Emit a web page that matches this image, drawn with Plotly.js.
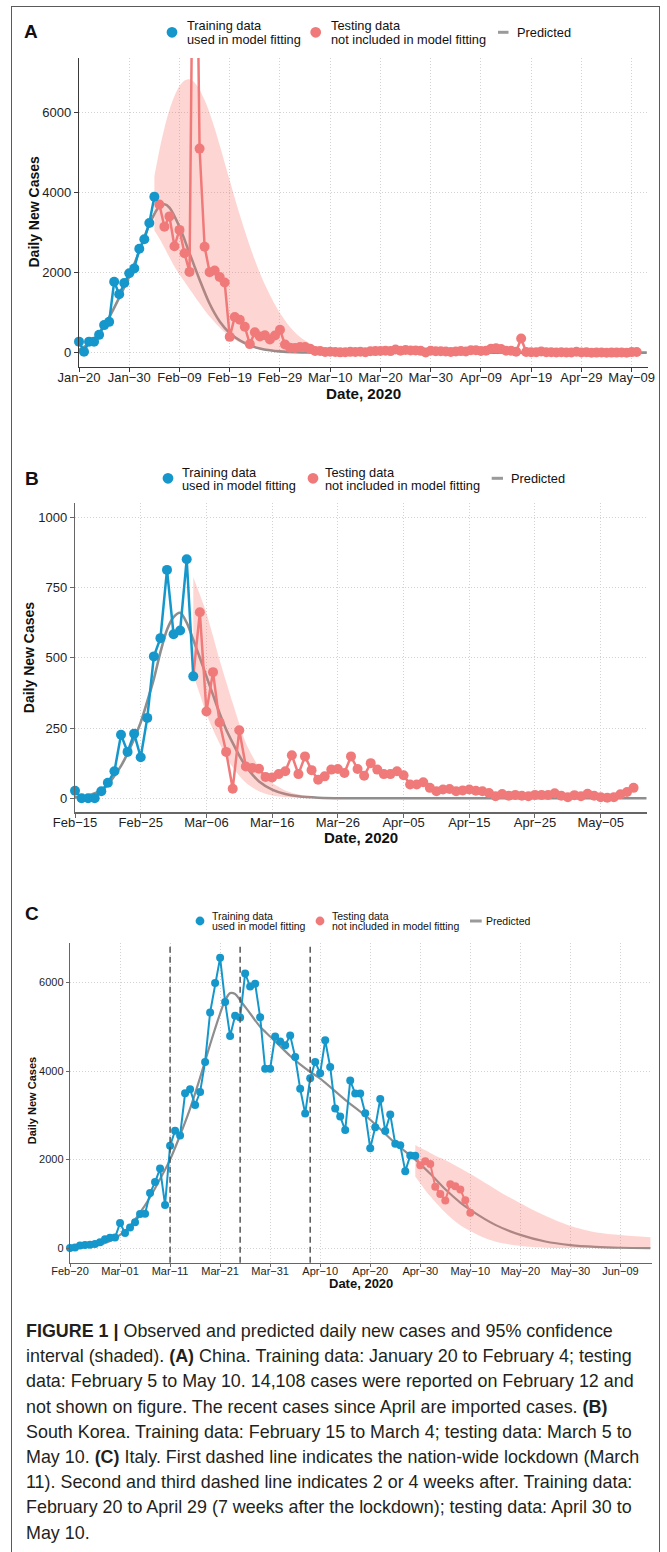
<!DOCTYPE html>
<html>
<head>
<meta charset="utf-8">
<script src="https://cdn.plot.ly/plotly-3.0.1.min.js"></script>
<style>
html,body{margin:0;padding:0;background:#fff;}
#wrap{position:relative;width:667px;height:1552px;overflow:hidden;background:#fff;}
#chart{position:absolute;left:0;top:0;width:667px;height:1310px;}
#frame{position:absolute;left:11px;top:6px;width:649px;height:1600px;border:1.5px solid #5a5a5a;box-sizing:border-box;pointer-events:none;}
#caption{position:absolute;left:26px;top:1319px;font-family:'Liberation Sans',Arial,sans-serif;font-size:17.9px;line-height:25.2px;color:#231f20;white-space:nowrap;}
</style>
</head>
<body>
<div id="wrap">
<div id="chart"></div>
<div id="frame"></div>
<div id="caption">
<b>FIGURE 1 |</b> Observed and predicted daily new cases and 95% confidence<br>
interval (shaded). <b>(A)</b> China. Training data: January 20 to February 4; testing<br>
data: February 5 to May 10. 14,108 cases were reported on February 12 and<br>
not shown on figure. The recent cases since April are imported cases. <b>(B)</b><br>
South Korea. Training data: February 15 to March 4; testing data: March 5 to<br>
May 10. <b>(C)</b> Italy. First dashed line indicates the nation-wide lockdown (March<br>
11). Second and third dashed line indicates 2 or 4 weeks after. Training data:<br>
February 20 to April 29 (7 weeks after the lockdown); testing data: April 30 to<br>
May 10.
</div>
</div>
<script>
// ---------------- DATA ----------------
// Panel A: China
const trainA_start = '2020-01-20';
const trainA = [275, 25, 275, 275, 444, 688, 769, 1771, 1459, 1737, 1982, 2102, 2590, 2829, 3235, 3887];
const testA_start = '2020-02-05';
const testA = [3694, 3143, 3399, 2656, 3062, 2478, 2015, 15152, 5090, 2641, 2009, 2048, 1886, 1749, 394, 889, 823, 648, 214, 508, 406, 433, 327, 427, 573,
  202, 125, 119, 139, 143, 99, 44, 40, 19, 24, 15, 8, 11, 20, 16, 21, 13, 34, 39, 41, 46, 39, 78, 47, 67, 55, 54, 45, 5, 48, 36,
  35, 31, 19, 30, 39, 32, 62, 63, 42, 46, 99, 108, 89, 46, 46, 26, 352, 16, 12, 11, 30, 10, 10, 6, 11, 3, 6, 22, 4, 12,
  1, 2, 3, 1, 2, 2, 4, 1, 14, 17];
const predA_x = ['2020-01-20','2020-01-22','2020-01-24','2020-01-26','2020-01-28','2020-01-30','2020-02-01','2020-02-03','2020-02-05','2020-02-06','2020-02-07','2020-02-09','2020-02-11','2020-02-13','2020-02-15','2020-02-17','2020-02-19','2020-02-21','2020-02-23','2020-02-25','2020-02-27','2020-02-29','2020-03-03','2020-03-07','2020-03-12','2020-03-20','2020-04-10','2020-05-12'];
const predA_y = [70, 220, 490, 880, 1370, 1900, 2530, 3200, 3650, 3700, 3620, 3140, 2480, 1820, 1220, 780, 490, 305, 183, 106, 60, 32, 12, 4, 1, 0, 0, 0];
const bandA_x = ['2020-02-04','2020-02-05','2020-02-06','2020-02-07','2020-02-08','2020-02-09','2020-02-10','2020-02-11','2020-02-12','2020-02-13','2020-02-14','2020-02-15','2020-02-16','2020-02-17','2020-02-18','2020-02-19','2020-02-20','2020-02-21','2020-02-22','2020-02-23','2020-02-24','2020-02-25','2020-02-26','2020-02-27','2020-02-28','2020-02-29','2020-03-02','2020-03-04','2020-03-06','2020-03-08','2020-03-11','2020-03-15','2020-03-20','2020-04-01','2020-05-12'];
const bandA_hi = [4400, 5050, 5600, 6050, 6400, 6650, 6790, 6820, 6740, 6560, 6300, 5980, 5600, 5180, 4740, 4300, 3860, 3440, 3040, 2660, 2310, 1990, 1700, 1440, 1200, 990, 640, 390, 225, 120, 40, 8, 1, 0, 0];
const bandA_lo = [3050, 2850, 2620, 2380, 2150, 1950, 1770, 1590, 1410, 1230, 1060, 900, 760, 630, 510, 410, 330, 260, 205, 160, 125, 95, 72, 54, 40, 30, 16, 9, 5, 2, 1, 0, 0, 0, 0];
const ticksA_vals = ['2020-01-20','2020-01-30','2020-02-09','2020-02-19','2020-02-29','2020-03-10','2020-03-20','2020-03-30','2020-04-09','2020-04-19','2020-04-29','2020-05-09'];
const ticksA_text = ['Jan\u221220','Jan\u221230','Feb\u221209','Feb\u221219','Feb\u221229','Mar\u221210','Mar\u221220','Mar\u221230','Apr\u221209','Apr\u221219','Apr\u221229','May\u221209'];

// Panel B: South Korea
const trainB_start = '2020-02-15';
const trainB = [27, 0, 0, 0, 25, 55, 96, 226, 165, 230, 146, 286, 505, 570, 813, 584, 597, 851, 434];
const testB_start = '2020-03-05';
const testB = [662, 309, 449, 270, 165, 34, 242, 113, 108, 105, 76, 74, 86, 96, 153, 86, 149, 100, 66, 78, 102, 104, 90, 149, 104, 80, 125,
  102, 86, 86, 96, 82, 49, 49, 57, 37, 25, 31, 33, 25, 28, 31, 27, 25, 19, 7, 15, 9, 12, 9, 7, 12, 12, 12, 18, 9, 4,
  11, 7, 16, 9, 4, 2, 4, 14, 22, 37];
const predB_x = ['2020-02-15','2020-02-17','2020-02-19','2020-02-20','2020-02-21','2020-02-22','2020-02-23','2020-02-24','2020-02-25','2020-02-26','2020-02-27','2020-02-28','2020-02-29','2020-03-01','2020-03-02','2020-03-03','2020-03-04','2020-03-05','2020-03-06','2020-03-07','2020-03-08','2020-03-09','2020-03-10','2020-03-11','2020-03-12','2020-03-13','2020-03-14','2020-03-16','2020-03-18','2020-03-20','2020-03-23','2020-03-28','2020-04-10','2020-05-12'];
const predB_y = [3, 10, 28, 48, 80, 115, 160, 212, 270, 345, 425, 520, 600, 645, 660, 625, 564, 500, 434, 368, 303, 245, 197, 152, 114, 84, 60, 31, 15, 7, 2, 0, 0, 0];
const bandB_x = ['2020-03-04','2020-03-05','2020-03-06','2020-03-07','2020-03-08','2020-03-09','2020-03-10','2020-03-11','2020-03-12','2020-03-13','2020-03-14','2020-03-15','2020-03-16','2020-03-18','2020-03-20','2020-03-22','2020-03-26','2020-04-10','2020-05-12'];
const bandB_hi = [787, 725, 659, 578, 493, 415, 339, 265, 197, 150, 110, 80, 55, 28, 14, 6, 1, 0, 0];
const bandB_lo = [440, 370, 300, 245, 195, 150, 110, 80, 55, 38, 25, 16, 10, 4, 2, 0, 0, 0, 0];
const ticksB_vals = ['2020-02-15','2020-02-25','2020-03-06','2020-03-16','2020-03-26','2020-04-05','2020-04-15','2020-04-25','2020-05-05'];
const ticksB_text = ['Feb\u221215','Feb\u221225','Mar\u221206','Mar\u221216','Mar\u221226','Apr\u221205','Apr\u221215','Apr\u221225','May\u221205'];

// Panel C: Italy
const trainC_start = '2020-02-20';
const trainC = [3, 17, 59, 71, 79, 93, 131, 202, 233, 240,
  566, 342, 466, 587, 769, 778, 1247, 1492, 1797, 977, 2313, 2651, 2547, 3497, 3590, 3233, 3526, 4207, 5322, 5986,
  6557, 5560, 4789, 5249, 5210, 6203, 5909, 5974, 5217, 4050, 4053,
  4782, 4668, 4585, 4805, 4316, 3599, 3039, 3836, 4204, 3951, 4694, 4092, 3153, 2972, 2667, 3786, 3493, 3491, 3047, 2256,
  2729, 3370, 2646, 3021, 2357, 2324, 1739, 2091, 2086];
const testC_start = '2020-04-30';
const testC = [1872, 1965, 1900, 1389, 1221, 1075, 1444, 1401, 1327, 1083, 802];
const predC_x = ['2020-02-20','2020-02-23','2020-02-26','2020-02-28','2020-03-01','2020-03-03','2020-03-05','2020-03-07','2020-03-09','2020-03-11','2020-03-13','2020-03-15','2020-03-17','2020-03-19','2020-03-21','2020-03-22','2020-03-23','2020-03-24','2020-03-25','2020-03-27','2020-03-29','2020-03-31','2020-04-02','2020-04-04','2020-04-06','2020-04-08','2020-04-10','2020-04-15','2020-04-20','2020-04-25','2020-04-29','2020-05-02','2020-05-05','2020-05-08','2020-05-10','2020-05-15','2020-05-20','2020-05-25','2020-05-30','2020-06-04','2020-06-09','2020-06-15'];
const predC_y = [10, 30, 80, 160, 300, 500, 800, 1150, 1560, 2000, 2550, 3150, 3850, 4600, 5300, 5600, 5760, 5740, 5600, 5300, 5000, 4780, 4560, 4340, 4150, 3980, 3830, 3350, 2900, 2370, 2000, 1680, 1330, 1030, 865, 526, 300, 150, 70, 30, 10, 2];
const bandC_x = ['2020-04-29','2020-04-30','2020-05-01','2020-05-02','2020-05-03','2020-05-04','2020-05-06','2020-05-08','2020-05-10','2020-05-13','2020-05-16','2020-05-20','2020-05-25','2020-05-30','2020-06-04','2020-06-09','2020-06-15'];
const bandC_hi = [2330, 2270, 2210, 2150, 2090, 2040, 1930, 1805, 1680, 1470, 1265, 1015, 730, 500, 360, 295, 245];
const bandC_lo = [1617, 1460, 1310, 1170, 1040, 920, 700, 520, 390, 226, 120, 50, 12, 2, 0, 0, 0];
const lockdownLines = ['2020-03-11', '2020-03-25', '2020-04-08'];
const ticksC_vals = ['2020-02-20','2020-03-01','2020-03-11','2020-03-21','2020-03-31','2020-04-10','2020-04-20','2020-04-30','2020-05-10','2020-05-20','2020-05-30','2020-06-09'];
const ticksC_text = ['Feb\u221220','Mar\u221201','Mar\u221211','Mar\u221221','Mar\u221231','Apr\u221210','Apr\u221220','Apr\u221230','May\u221210','May\u221220','May\u221230','Jun\u221209'];

const legendTexts = ['Training data', 'used in model fitting', 'Testing data', 'not included in model fitting', 'Predicted'];

// ---------------- STYLE / LAYOUT ----------------
const W = 667, H = 1310;
const BLUE = '#1597cb', RED = '#f07a7a', GRAY = '#8e8e8e', BAND = 'rgba(248,118,109,0.30)';
const FONT = 'Liberation Sans, Arial, Helvetica, sans-serif';

function days(start, n) {
  const out = [];
  const t0 = Date.parse(start + 'T00:00:00Z');
  for (let i = 0; i < n; i++) out.push(new Date(t0 + i * 86400000).toISOString().slice(0, 10));
  return out;
}

function panelTraces(k, trainStart, train, testStart, test, pX, pY, bX, bLo, bHi, st) {
  const xa = k === 1 ? 'x' : 'x' + k, ya = k === 1 ? 'y' : 'y' + k;
  const tx = days(trainStart, train.length);
  const sx = days(testStart, test.length);
  const lastX = tx[tx.length - 1], lastY = train[train.length - 1];
  return [
    {x: pX, y: pY, xaxis: xa, yaxis: ya, mode: 'lines', line: {color: GRAY, width: st.pw, shape: 'spline', smoothing: 0.8}, hoverinfo: 'skip', showlegend: false},
    {x: bX, y: bLo, xaxis: xa, yaxis: ya, mode: 'lines', line: {width: 0, shape: 'spline', smoothing: 0.8, color: 'rgba(0,0,0,0)'}, hoverinfo: 'skip', showlegend: false},
    {x: bX, y: bHi, xaxis: xa, yaxis: ya, mode: 'lines', fill: 'tonexty', fillcolor: BAND, line: {width: 0, shape: 'spline', smoothing: 0.8, color: 'rgba(0,0,0,0)'}, hoverinfo: 'skip', showlegend: false},
    {x: [lastX].concat(sx), y: [lastY].concat(test), xaxis: xa, yaxis: ya, mode: 'lines+markers', cliponaxis: false,
      line: {color: RED, width: st.lw}, marker: {color: RED, opacity: 1, size: [0].concat(test.map(() => st.ms)), line: {width: 0}}, showlegend: false},
    {x: tx, y: train, xaxis: xa, yaxis: ya, mode: 'lines+markers', cliponaxis: false,
      line: {color: BLUE, width: st.lw}, marker: {color: BLUE, opacity: 1, size: st.ms, line: {width: 0}}, showlegend: false}
  ];
}

const stA = {lw: 2.5, ms: 10, pw: 2.6};
const stB = {lw: 2.5, ms: 10, pw: 2.6};
const stC = {lw: 2.0, ms: 8, pw: 2.2};

const data = [].concat(
  panelTraces(1, trainA_start, trainA, testA_start, testA, predA_x, predA_y, bandA_x, bandA_lo, bandA_hi, stA),
  panelTraces(2, trainB_start, trainB, testB_start, testB, predB_x, predB_y, bandB_x, bandB_lo, bandB_hi, stB),
  panelTraces(3, trainC_start, trainC, testC_start, testC, predC_x, predC_y, bandC_x, bandC_lo, bandC_hi, stC)
);

function xAxis(x0, x1, anchor, range, tv, tt, fs, lc, tl, so) {
  return {domain: [x0 / W, x1 / W], anchor: anchor, type: 'date', range: range, tickmode: 'array', tickvals: tv, ticktext: tt,
    tickfont: {size: fs, color: '#1e1e1e', family: FONT}, showline: true, linecolor: lc, linewidth: 1.2,
    ticks: 'outside', ticklen: tl, tickwidth: 1, tickcolor: lc, ticklabelstandoff: so,
    showgrid: true, gridcolor: '#d2d2d2', griddash: '1px,2px', gridwidth: 1,
    zeroline: false, fixedrange: true};
}
function yAxis(y0, y1, anchor, range, dt, fs, lc, tl) {
  return {domain: [1 - y1 / H, 1 - y0 / H], anchor: anchor, range: range, tickmode: 'linear', tick0: 0, dtick: dt,
    tickfont: {size: fs, color: '#1e1e1e', family: FONT}, showline: true, linecolor: lc, linewidth: 1.2,
    ticks: 'outside', ticklen: tl, tickwidth: 1, tickcolor: lc,
    showgrid: true, gridcolor: '#d2d2d2', griddash: '1px,2px', gridwidth: 1,
    zeroline: false, fixedrange: true};
}

function T(text, x, y, size, extra) {
  return Object.assign({text: text, x: x / W, y: 1 - y / H, xref: 'paper', yref: 'paper', showarrow: false,
    xanchor: 'left', yanchor: 'middle', borderpad: 0, font: {size: size, color: '#111', family: FONT}}, extra || {});
}
function dot(cx, cy, r, c) {
  return {type: 'circle', xref: 'paper', yref: 'paper', xsizemode: 'pixel', ysizemode: 'pixel',
    xanchor: cx / W, yanchor: 1 - cy / H, x0: -r, x1: r, y0: -r, y1: r, fillcolor: c, line: {width: 0}};
}
function seg(x0, x1, y, c, w) {
  return {type: 'line', xref: 'paper', yref: 'paper', x0: x0 / W, x1: x1 / W, y0: 1 - y / H, y1: 1 - y / H, line: {color: c, width: w}};
}

function legend(L) {
  return {
    ann: [
      T(legendTexts[0], L.t1, L.yl1, L.fs), T(legendTexts[1], L.t1, L.yl2, L.fs),
      T(legendTexts[2], L.t2, L.yl1, L.fs), T(legendTexts[3], L.t2, L.yl2, L.fs),
      T(legendTexts[4], L.t3, L.yc, L.fs)
    ],
    shp: [dot(L.d1, L.yc, L.r, BLUE), dot(L.d2, L.yc, L.r, RED), seg(L.g0, L.g1, L.yc, '#9a9a9a', 3)]
  };
}
const legA = legend({d1: 172, d2: 315.7, t1: 185.5, t2: 329.5, g0: 498, g1: 508.5, t3: 515.5, yc: 32.3, yl1: 25.7, yl2: 39.2, fs: 12.8, r: 5.4});
const legB = legend({d1: 168, d2: 313, t1: 181.2, t2: 323.5, g0: 491.7, g1: 503, t3: 510.2, yc: 478.3, yl1: 472, yl2: 485, fs: 12.8, r: 5.4});
const legC = legend({d1: 200, d2: 320, t1: 211.2, t2: 330.5, g0: 470, g1: 481.7, t3: 485.2, yc: 921, yl1: 915.7, yl2: 926.4, fs: 10.5, r: 4.4});

const annotations = [].concat(
  [T('<b>A</b>', 31.3, 31.7, 19, {xanchor: 'center'}),
   T('<b>B</b>', 31.5, 478, 19, {xanchor: 'center'}),
   T('<b>C</b>', 32, 913, 19, {xanchor: 'center'}),
   T('<b>Daily New Cases</b>', 33.8, 211.7, 14, {xanchor: 'center', textangle: -90}),
   T('<b>Daily New Cases</b>', 29.2, 658, 14, {xanchor: 'center', textangle: -90}),
   T('<b>Daily New Cases</b>', 32.3, 1101, 11, {xanchor: 'center', textangle: -90}),
   T('<b>Date, 2020</b>', 364, 393, 15.2, {xanchor: 'center'}),
   T('<b>Date, 2020</b>', 361, 837.5, 15, {xanchor: 'center'}),
   T('<b>Date, 2020</b>', 361, 1283.5, 13, {xanchor: 'center'})],
  legA.ann, legB.ann, legC.ann
);

const shapes = [].concat(
  lockdownLines.map(d => ({type: 'line', xref: 'x3', yref: 'y3 domain', x0: d, x1: d, y0: 0, y1: 1,
    line: {color: '#555', width: 1.5, dash: '6px,4px'}})),
  legA.shp, legB.shp, legC.shp
);

const layout = {
  width: W, height: H, margin: {l: 0, r: 0, t: 0, b: 0, pad: 0},
  paper_bgcolor: '#fff', plot_bgcolor: 'rgba(0,0,0,0)', showlegend: false,
  font: {family: FONT, color: '#1e1e1e'},
  xaxis: xAxis(79, 648, 'y', ['2020-01-20', '2020-05-12 06:00'], ticksA_vals, ticksA_text, 13, '#3a3a3a', 4, -6),
  yaxis: yAxis(58, 366.7, 'x', [-350, 7350], 2000, 13, '#3a3a3a', 4),
  xaxis2: xAxis(75, 646.7, 'y2', ['2020-02-15', '2020-05-12'], ticksB_vals, ticksB_text, 13, '#666', 4, -6),
  yaxis2: yAxis(503.3, 812.3, 'x2', [-50, 1050], 250, 13, '#666', 4),
  xaxis3: xAxis(70, 651.7, 'y3', ['2020-02-20', '2020-06-15 06:00'], ticksC_vals, ticksC_text, 11, '#666', 3, -5),
  yaxis3: yAxis(943.3, 1262.7, 'x3', [-328, 6885], 2000, 11, '#666', 3),
  annotations: annotations,
  shapes: shapes
};

Plotly.newPlot('chart', data, layout, {staticPlot: true, displayModeBar: false});
</script>
</body>
</html>
